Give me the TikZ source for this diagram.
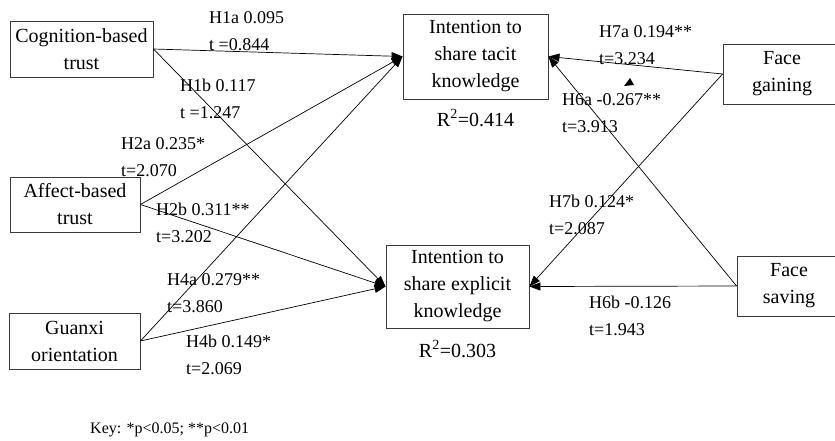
\documentclass[tikz,border=0pt]{standalone}
\usepackage{fontspec}
\setmainfont{Liberation Serif}
\usetikzlibrary{positioning,arrows.meta}
\definecolor{borde}{HTML}{3A3A3A}

\begin{document}
\begin{tikzpicture}[x=1pt,y=-1pt,
        n/.style={draw=borde,line width=0.9pt,inner sep=0pt,align=center,
          font=\fontsize{20}{27}\selectfont},
        f/.style={-{Triangle[length=11pt,width=8pt]},line width=0.7pt},
        lab/.style={anchor=base west,inner sep=0pt,align=left,
          font=\fontsize{18}{26.5}\selectfont},
        r2/.style={inner sep=0pt,font=\fontsize{20}{24}\selectfont}]
  \useasboundingbox (0,0) rectangle (835,440);
  % constructs
  \node[n,minimum width=143pt,minimum height=56pt] (cog) at (81.5,49) {Cognition-based\\trust};
  \node[n,minimum width=130pt,minimum height=55pt] (aff) at (75,204.5) {Affect-based\\trust};
  \node[n,minimum width=131pt,minimum height=56pt] (gua) at (74.5,341) {Guanxi\\orientation};
  \node[n,minimum width=145pt,minimum height=85pt] (tac) at (475.5,56.5) {Intention to\\share tacit\\knowledge};
  \node[n,minimum width=143pt,minimum height=83pt] (exp) at (457.5,286.5) {Intention to\\share explicit\\knowledge};
  \node[n,minimum width=118pt,minimum height=60pt] (gain) at (782,74) {Face\\gaining};
  \node[n,minimum width=104pt,minimum height=60pt] (sav) at (789,286) {Face\\saving};
  \node[r2,below=10pt of tac] (r2t) {R\textsuperscript{2}=0.414};
  \node[r2,below=12pt of exp] (r2e) {R\textsuperscript{2}=0.303};
  % paths
  \draw[f] (cog.east) -- (tac.west); \draw[f] (cog.east) -- (exp.west);
  \draw[f] (aff.east) -- (tac.west); \draw[f] (aff.east) -- (exp.west);
  \draw[f] (gua.east) -- (tac.west); \draw[f] (gua.east) -- (exp.west);
  \draw[f] (gain.west) -- (tac.east); \draw[f] (gain.west) -- (exp.east);
  \draw[f] (sav.west) -- (tac.east); \draw[f] (sav.west) -- (exp.east);
  \fill (630,78) -- (624,86) -- (634,85) -- cycle;
  % coefficients (anchored on the second line)
  \node[lab] (h1a) at (209,50) {H1a 0.095\\t =0.844};
  \node[lab] (h1b) at (180,118) {H1b 0.117\\t =1.247};
  \node[lab] (h2a) at (121,176) {H2a 0.235*\\t=2.070};
  \node[lab] (h2b) at (156,242) {H2b 0.311**\\t=3.202};
  \node[lab] (h4a) at (167,312) {H4a 0.279**\\t=3.860};
  \node[lab] (h4b) at (186,374) {H4b 0.149*\\t=2.069};
  \node[lab] (h7a) at (599,64) {H7a 0.194**\\t=3.234};
  \node[lab] (h6a) at (562,132) {H6a -0.267**\\t=3.913};
  \node[lab] (h7b) at (549,234) {H7b 0.124*\\t=2.087};
  \node[lab] (h6b) at (589,335) {H6b -0.126\\t=1.943};
  \node[anchor=base west,inner sep=0pt,font=\fontsize{16}{20}\selectfont] (key) at (90,433)
    {Key: *p<0.05; **p<0.01};
\end{tikzpicture}
\end{document}
